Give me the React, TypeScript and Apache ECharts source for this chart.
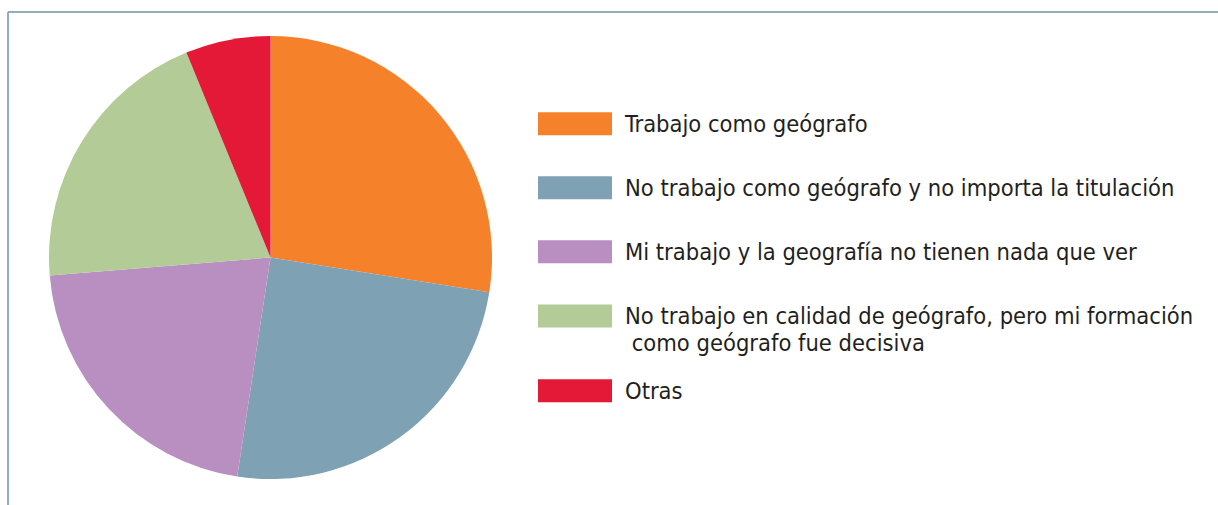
import React, { useEffect, useRef } from "react";
import * as echarts from "echarts";

const categories = [
  "Trabajo como geógrafo",
  "No trabajo como geógrafo y no importa la titulación",
  "Mi trabajo y la geografía no tienen nada que ver",
  "No trabajo en calidad de geógrafo, pero mi formación\n como geógrafo fue decisiva",
  "Otras",
];
const values = [27.5, 24.9, 21.3, 20.1, 6.2];
const colors = ["#F5822A", "#7FA1B4", "#B98FC2", "#B3CB97", "#E31937"];

const FONT = "'DejaVu Sans Condensed', 'Liberation Sans Narrow', sans-serif";
const LH = 27.4;

export default function App() {
  const ref = useRef<HTMLDivElement>(null);
  useEffect(() => {
    if (!ref.current) return;
    const chart = echarts.init(ref.current, undefined, { renderer: "svg" });
    const legendText = {
      fontFamily: FONT,
      fontSize: 23.5,
      lineHeight: LH,
      color: "#231F20",
      padding: [0, 0, 0, 8],
    };
    const baseLegend = {
      orient: "vertical",
      left: 538,
      padding: 0,
      itemWidth: 74,
      itemHeight: 23,
      itemGap: 64 - LH,
      icon: "rect",
      selectedMode: false,
      textStyle: legendText,
      // keep the first line of a two-line label level with its colour box
      formatter: (name: string) =>
        name.indexOf("\n") >= 0 ? "\n" + name : name,
    };
    chart.setOption({
      animation: false,
      backgroundColor: "#ffffff",
      color: colors,
      legend: [
        { ...baseLegend, top: 110, data: categories.slice(0, 3) },
        { ...baseLegend, top: 275, data: categories.slice(3, 4) },
        { ...baseLegend, top: 377, data: categories.slice(4) },
      ],
      graphic: [
        {
          type: "line",
          shape: { x1: 8, y1: 12, x2: 1218, y2: 12 },
          style: { stroke: "#93AEBB", lineWidth: 2 },
        },
        {
          type: "line",
          shape: { x1: 8, y1: 12, x2: 8, y2: 505 },
          style: { stroke: "#93AEBB", lineWidth: 2 },
        },
      ],
      series: [
        {
          type: "pie",
          center: [270.5, 257.5],
          radius: 221.5,
          startAngle: 90,
          clockwise: true,
          label: { show: false },
          labelLine: { show: false },
          emphasis: { disabled: true },
          itemStyle: { borderWidth: 0 },
          data: categories.map((name, i) => ({ name, value: values[i] })),
        },
      ],
    });
    return () => chart.dispose();
  }, []);
  return (
    <div
      ref={ref}
      style={{ position: "fixed", left: 0, top: 0, width: 1218, height: 505 }}
    />
  );
}
